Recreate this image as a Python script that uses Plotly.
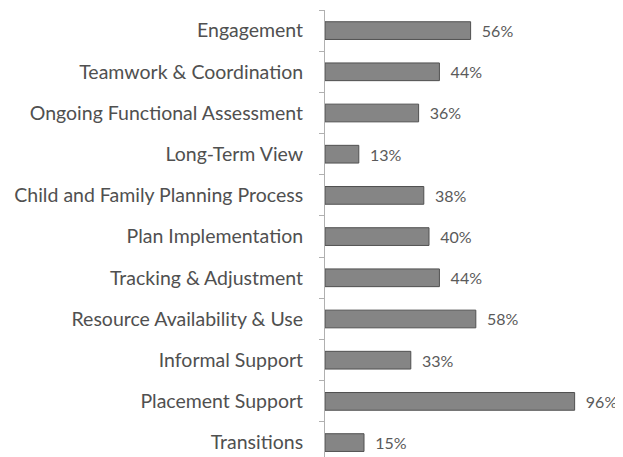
import plotly.graph_objects as go

categories = [
    "Engagement",
    "Teamwork & Coordination",
    "Ongoing Functional Assessment",
    "Long-Term View",
    "Child and Family Planning Process",
    "Plan Implementation",
    "Tracking & Adjustment",
    "Resource Availability & Use",
    "Informal Support",
    "Placement Support",
    "Transitions",
]
values = [56, 44, 36, 13, 38, 40, 44, 58, 33, 96, 15]
value_labels = [f"{v}%" for v in values]

fig = go.Figure(
    go.Bar(
        x=[v / 100 for v in values],
        y=categories,
        orientation="h",
        width=0.43,
        marker=dict(color="#858585", line=dict(color="#505050", width=1)),
        text=value_labels,
        textposition="outside",
        texttemplate="  %{text}",
        textfont=dict(color="#5a5a5a", size=16),
        constraintext="none",
        cliponaxis=False,
    )
)

# page body adds an 8px offset, so the figure is 8px smaller than the window
fig.update_layout(
    width=615,
    height=449,
    margin=dict(l=317, r=0, t=2, b=0),
    plot_bgcolor="white",
    paper_bgcolor="white",
    font=dict(family="Lato", size=19.5, color="#505050"),
    showlegend=False,
)

fig.update_xaxes(
    range=[0, 1.146],
    visible=False,
    showgrid=False,
    zeroline=False,
)

fig.update_yaxes(
    categoryorder="array",
    categoryarray=categories,
    range=[10.35, -0.5],
    showline=True,
    linecolor="#b0b0b0",
    linewidth=1,
    ticks="outside",
    tickson="boundaries",
    ticklen=5,
    tickcolor="#b0b0b0",
    ticklabelstandoff=17,
    showgrid=False,
)

fig.write_html("out.html")
